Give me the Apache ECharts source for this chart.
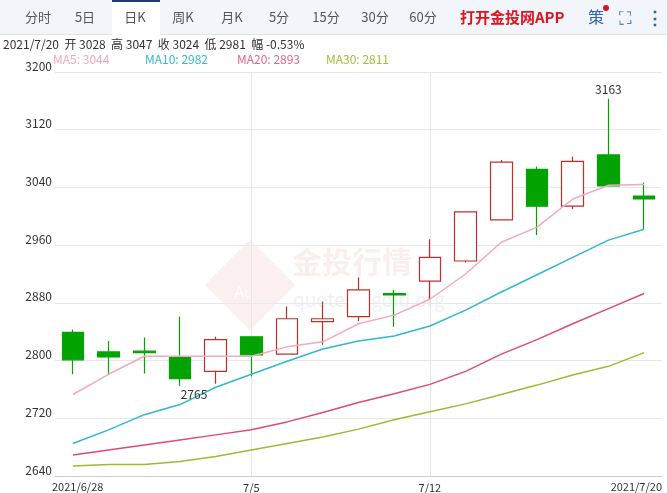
<!DOCTYPE html>
<html><head><meta charset="utf-8">
<script src="https://cdn.jsdelivr.net/npm/echarts@6/dist/echarts.min.js"></script>
<style>html,body{margin:0;padding:0;background:#fff}#c{width:667px;height:493px}</style>
</head><body><div id="c"></div>
<script>
const categories=['2021/6/28','6/29','6/30','7/1','7/2','7/5','7/6','7/7','7/8','7/9','7/12','7/13','7/14','7/15','7/16','7/19','2021/7/20'];
// [open, close, low, high]
const ohlc=[
[2839,2801,2781,2843],[2812,2805,2780,2827],[2813,2811,2782,2832],[2804,2775,2765,2861],
[2785,2829,2768,2833],[2833,2808,2778,2833],[2809,2858,2808,2875],[2854,2858,2822,2882],
[2861,2898,2855,2915],[2893,2891,2847,2898],[2910,2943,2884,2968],[2938,3006,2936,3007],
[2995,3075,2995,3078],[3065,3014,2974,3069],[3014,3076,3010,3083],[3085,3042,3042,3163],
[3028,3024,2981,3047]];
const ma5=[2753,2781,2806,2806,2806,2806,2819,2826,2851,2863,2885,2920,2964,2985,3024,3043,3044];
const ma10=[2685,2704,2725,2739,2763,2781,2799,2816,2827,2834,2848,2870,2895,2919,2943,2967,2982];
const ma20=[2669,2676,2683,2690,2697,2704,2715,2728,2742,2754,2767,2785,2809,2829,2851,2872,2893];
const ma30=[2654,2656,2656,2660,2667,2676,2685,2694,2705,2718,2729,2740,2753,2766,2780,2792,2811];
const tabs=['分时','5日','日K','周K','月K','5分','15分','30分','60分'];
const tabX=[38,85,135,183,232,279,326,375,423];
const F='"Microsoft YaHei","Noto Sans CJK SC",sans-serif';
const chart=echarts.init(document.getElementById('c'));
const g=[
{type:'rect',shape:{x:0,y:0,width:667,height:34},style:{fill:'#f2f5fa'},z:-1},
{type:'rect',shape:{x:112,y:1,width:48,height:34},style:{fill:'#fff'}},
{type:'rect',shape:{x:112,y:0,width:48,height:2},style:{fill:'#1c3d7a'}},
{type:'rect',shape:{x:0,y:34,width:112,height:1},style:{fill:'#e0e4ea'}},
{type:'rect',shape:{x:160,y:34,width:507,height:1},style:{fill:'#e0e4ea'}}
];
tabs.forEach((t,i)=>g.push({type:'text',x:tabX[i],y:17,style:{text:t,fill:'#555',font:'13px '+F,align:'center',verticalAlign:'middle'}}));
g.push({type:'text',x:460,y:17,style:{text:'打开金投网APP',fill:'#e0141e',font:'bold 15px '+F,verticalAlign:'middle'}});
g.push({type:'text',x:588,y:17,style:{text:'策',fill:'#2b62b8',font:'16px '+F,verticalAlign:'middle'}});
g.push({type:'circle',shape:{cx:606,cy:8,r:3},style:{fill:'#e0141e'}});
g.push({type:'text',x:625,y:17,style:{text:'⛶',fill:'#2b62b8',font:'18px '+F,align:'center',verticalAlign:'middle'}});
g.push({type:'text',x:655,y:17,style:{text:'⋮',fill:'#2b62b8',font:'bold 18px '+F,align:'center',verticalAlign:'middle'}});
g.push({type:'text',x:3,y:44,style:{text:'2021/7/20  开 3028  高 3047  收 3024  低 2981  幅 -0.53%',fill:'#333',font:'12px '+F,verticalAlign:'middle'}});
[['MA5: 3044','#f0a6bf',53],['MA10: 2982','#35b8d0',145],['MA20: 2893','#e06590',237],['MA30: 2811','#a6bb3a',326]].forEach(m=>g.push({type:'text',x:m[2],y:59,style:{text:m[0],fill:m[1],font:'12px '+F,verticalAlign:'middle'}}));
g.push({type:'text',x:52,y:487,style:{text:'2021/6/28',fill:'#333',font:'11px '+F,verticalAlign:'middle'}});
g.push({type:'text',x:662,y:487,style:{text:'2021/7/20',fill:'#333',font:'11px '+F,align:'right',verticalAlign:'middle'}});
g.push({type:'rect',x:250,y:285,shape:{x:-32,y:-32,width:64,height:64},rotation:Math.PI/4,style:{fill:'rgba(215,120,110,0.11)'},z:-1});
g.push({type:'text',x:244,y:292,style:{text:'Au',fill:'rgba(255,255,255,0.8)',font:'16px '+F,align:'center',verticalAlign:'middle'}});
g.push({type:'text',x:292,y:262,style:{text:'金投行情',fill:'rgba(215,120,110,0.12)',font:'bold 30px '+F,verticalAlign:'middle'}});
g.push({type:'text',x:293,y:300,style:{text:'quote.cngold.org',fill:'rgba(180,180,180,0.2)',font:'19px '+F,verticalAlign:'middle'}});
function line(d,c){return {type:'line',data:d,symbol:'none',smooth:false,lineStyle:{color:c,width:1.5},z:3};}
chart.setOption({
animation:false,
graphic:g,
grid:{left:55,right:5,top:72,bottom:13},
xAxis:{type:'category',data:categories,boundaryGap:true,
 axisLine:{lineStyle:{color:'#ccc'}},axisTick:{show:false},
 axisLabel:{color:'#333',fontSize:11,fontFamily:F,margin:6,interval:(i)=>i===5||i===10},
 splitLine:{show:false}},
yAxis:{type:'value',min:2640,max:3200,interval:80,
 axisLine:{show:false},axisTick:{show:false},
 axisLabel:{color:'#333',fontSize:12,fontFamily:F,margin:3,verticalAlign:'bottom',formatter:(v)=>String(v)},
 splitLine:{lineStyle:{color:'#e8e8e8'}}},
series:[
{type:'candlestick',data:ohlc,barWidth:'62%',
 itemStyle:{color:'#fff',color0:'#04a304',borderColor:'#c0302a',borderColor0:'#04a304',borderWidth:1.2},
 markLine:{silent:true,symbol:'none',label:{show:false},lineStyle:{color:'#e8e8e8',type:'solid',width:1},z:0,
  data:[{xAxis:'7/5'},{xAxis:'7/12'}]},
 markPoint:{symbol:'circle',symbolSize:0,
  label:{show:true,color:'#333',fontSize:12,fontFamily:F},
  data:[{coord:[15,3163],value:'3163',label:{position:'top',distance:3}},
        {coord:[3,2765],value:'2765',label:{position:'bottom',distance:3,offset:[14,0]}}]}},
line(ma5,'#f2a9c1'),line(ma10,'#2fb8d0'),line(ma20,'#dd4a7b'),line(ma30,'#a2b732')
]});
</script></body></html>
